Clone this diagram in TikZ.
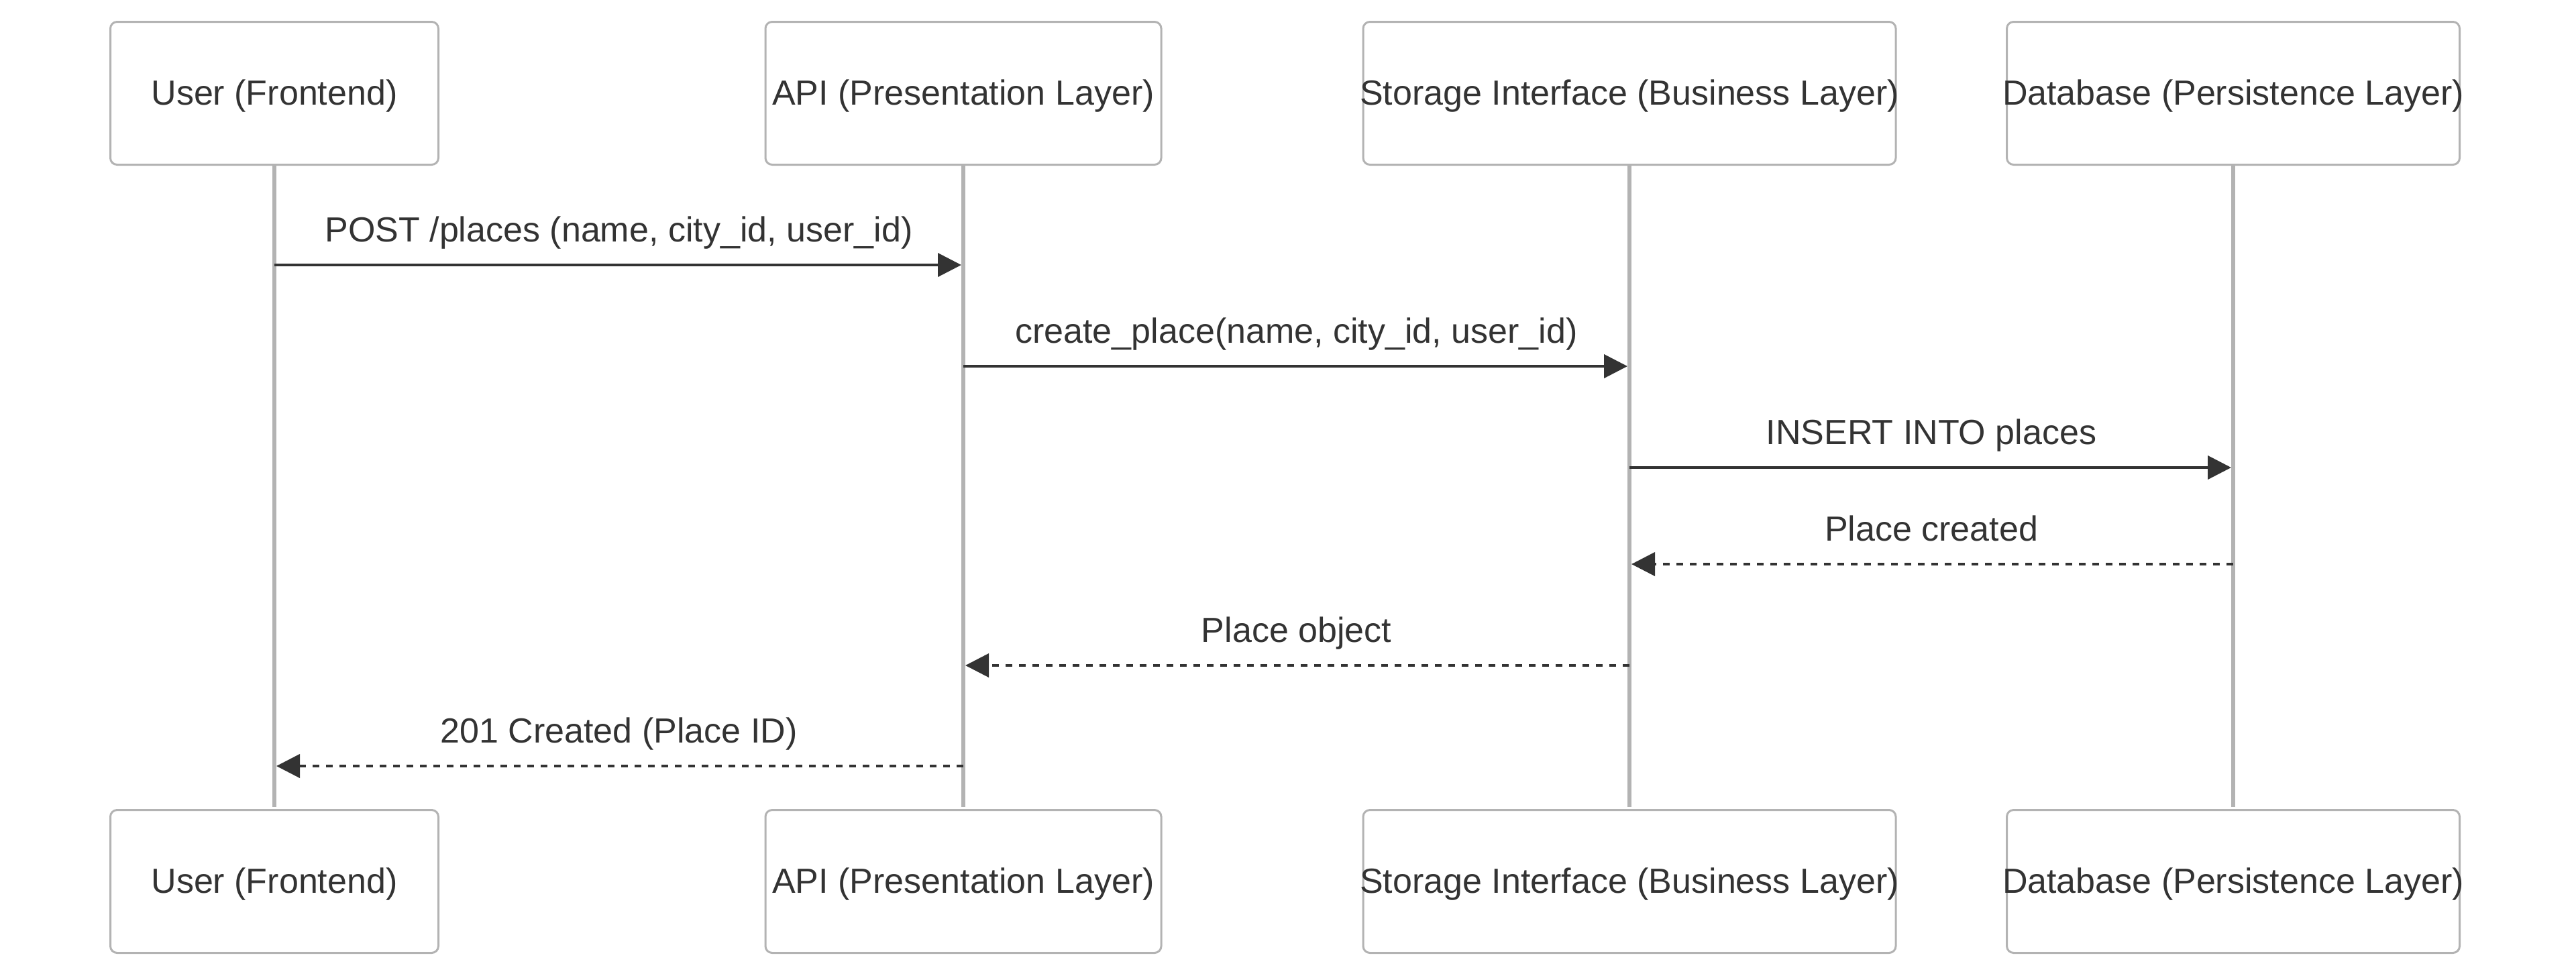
\documentclass[tikz,border=0pt]{standalone}
\usepackage{fontspec}
\setmainfont{Liberation Sans}
\usepackage{tikz}
\usetikzlibrary{arrows.meta}
\definecolor{ink}{HTML}{333333}
\definecolor{edgegray}{HTML}{B3B3B3}

\begin{document}
\begin{tikzpicture}[
    > = {Triangle[length=0.35cm, width=0.35cm]}, % arrow head style
    shorten > = 0.3mm, % tip stops at the lifeline
    node distance = 11.75cm, % top box to bottom box
    font = \fontsize{14.8pt}{18pt}\selectfont,
    text = ink
]

\tikzstyle{actor}=[
    draw = edgegray,
    line width = 0.03cm,
    rounded corners = 0.1cm,
    fill = white,
    inner xsep = -0.1cm,
    inner ysep = 0pt,
    text height = 0.42cm,
    text depth = 0.08cm,
    minimum height = 2.13cm
]
\tikzstyle{lifeline}=[draw = edgegray, line width = 0.065cm]
\tikzstyle{call}=[->, draw = ink, line width = 0.04cm]
\tikzstyle{reply}=[call, dash pattern = on 0.1cm off 0.1cm]
\tikzstyle{msg}=[midway, anchor = base, yshift = 0.35cm, text = ink]

\useasboundingbox (0,0) rectangle (38.4,-14.6);

% participants
\node[actor, minimum width = 4.89cm] (User) at (4.09,-1.39) {User (Frontend)};
\node[actor, minimum width = 5.90cm] (API) at (14.36,-1.39) {API (Presentation Layer)};
\node[actor, minimum width = 7.94cm] (Storage) at (24.29,-1.39) {Storage Interface (Business Layer)};
\node[actor, minimum width = 6.75cm] (Database) at (33.29,-1.39) {Database (Persistence Layer)};

\node[actor, minimum width = 4.89cm] (User Bottom) [below of = User] {User (Frontend)};
\node[actor, minimum width = 5.90cm] (API Bottom) [below of = API] {API (Presentation Layer)};
\node[actor, minimum width = 7.94cm] (Storage Bottom) [below of = Storage] {Storage Interface (Business Layer)};
\node[actor, minimum width = 6.75cm] (Database Bottom) [below of = Database] {Database (Persistence Layer)};

\path[lifeline] (User) -- (User Bottom);
\path[lifeline] (API) -- (API Bottom);
\path[lifeline] (Storage) -- (Storage Bottom);
\path[lifeline] (Database) -- (Database Bottom);

% message rows
\coordinate (m1) at (0,-3.95);
\coordinate (m2) at (0,-5.46);
\coordinate (m3) at (0,-6.97);
\coordinate (m4) at (0,-8.41);
\coordinate (m5) at (0,-9.92);
\coordinate (m6) at (0,-11.42);

\draw[call] (User |- m1) -- node[msg] {POST /places (name, city\_id, user\_id)} (API |- m1);
\draw[call] (API |- m2) -- node[msg] {create\_place(name, city\_id, user\_id)} (Storage |- m2);
\draw[call] (Storage |- m3) -- node[msg] {INSERT INTO places} (Database |- m3);
\draw[reply] (Database |- m4) -- node[msg] {Place created} (Storage |- m4);
\draw[reply] (Storage |- m5) -- node[msg] {Place object} (API |- m5);
\draw[reply] (API |- m6) -- node[msg] {201 Created (Place ID)} (User |- m6);

\end{tikzpicture}
\end{document}
